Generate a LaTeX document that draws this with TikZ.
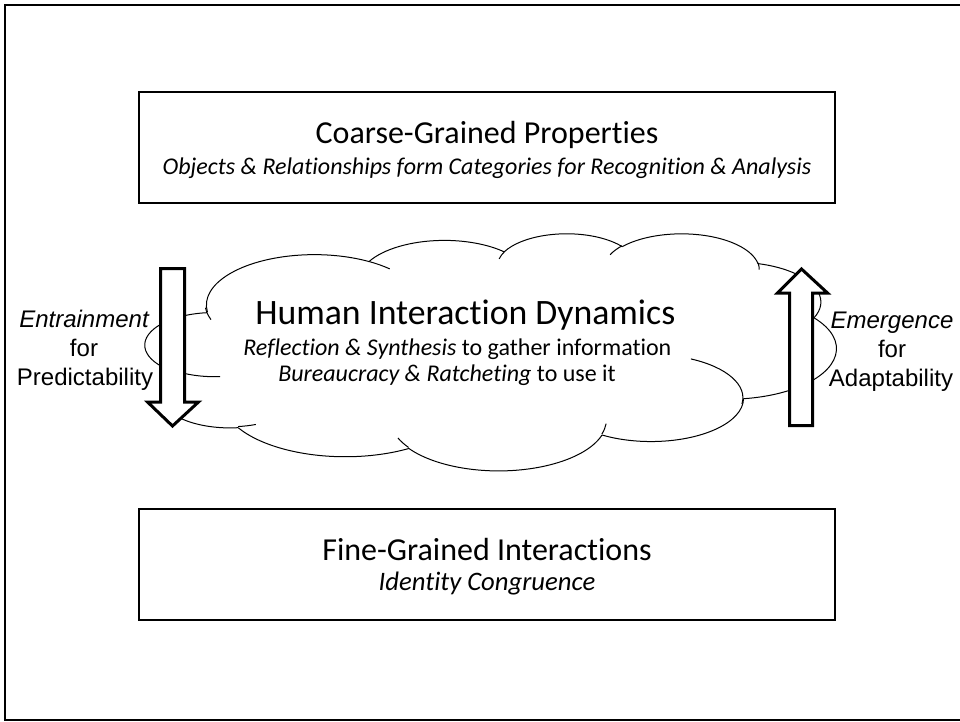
\documentclass[tikz,border=0pt]{standalone}
\usepackage{fontspec}
\setmainfont{Carlito}[Ligatures=NoCommon]
\newfontfamily\arialfont{Liberation Sans}
\begin{document}
\begin{tikzpicture}[x=0.75pt, y=-0.75pt,
  box/.style={draw, line width=1.5pt},
  title/.style={inner sep=0pt, anchor=base, font=\fontsize{24}{29}\selectfont},
  subtitle/.style={inner sep=0pt, anchor=base, font=\fontsize{18}{22}\selectfont\itshape},
  cloudtitle/.style={inner sep=0pt, anchor=base west, font=\fontsize{26.8}{32}\selectfont},
  cloudtext/.style={inner sep=0pt, anchor=base west, font=\fontsize{18}{22}\selectfont},
  side/.style={inner sep=0pt, anchor=base, font=\arialfont\fontsize{18}{22}\selectfont},
  bigarrow/.style={draw, fill=white, line width=2.25pt, line join=miter},
  cloudline/.style={line width=0.75pt}]
\useasboundingbox (0,0) rectangle (960,721);
\clip (0,0) rectangle (960,721);
% Frame
\draw[line width=1.5pt] (4.7,4.7) rectangle (975,720);
% Top box
\draw[box] (139,91.5) rectangle (835.3,202.5);
\node[title] (coarse) at (487,143.5) {Coarse-Grained Properties};
\node[subtitle] (coarsesub) at (487,174.5) {Objects \& Relationships form Categories for Recognition \& Analysis};
% Cloud
\begin{scope}[shift={(145,233)}, xscale=1.5995, yscale=0.5486, cloudline]
\coordinate (cp) at (39,143.7);
\foreach \a/\b/\s/\w in {67.53/91.90/-190.4875/123.7805, 53.33/72.67/-144.1024/89.9452,
  43.65/59.45/-145.8079/99.7230, 48.57/65.95/-130.9861/117.2417,
  53.33/72.73/-78.7089/109.0269, 67.75/92.20/-46.2673/130.2690,
  57.85/78.67/0.6250/114.0333, 67.52/92.15/22.4516/115.1726,
  77.20/105.43/66.2426/75.7110, 43.60/59.18/-274.9421/146.7356,
  43.45/59.45/-246.8285/152.5189}{
  \pgfmathsetmacro\ts{atan2(\a*sin(\s),\b*cos(\s))}
  \pgfmathsetmacro\te{atan2(\a*sin(\s+\w),\b*cos(\s+\w))}
  \pgfmathsetmacro\td{mod(\te-\ts+720,360)}
  \draw (cp) arc[x radius=\a, y radius=\b, start angle=\ts, delta angle=\td] coordinate (cp);
}
% inner folds
\foreach \px/\py/\a/\b/\s/\w in {46.93/261.77/43.45/59.45/86.7420/26.4295,
  69.28/348.99/43.60/59.18/73.6105/11.4475, 164.78/390.90/67.52/92.15/137.6242/14.0811,
  288.27/347.51/67.52/92.15/6.4533/15.9984, 341.29/229.54/57.85/78.67/-70.2924/81.5756,
  417.98/153.54/53.33/72.73/30.3180/27.7515, 383.24/54.26/48.57/65.95/-13.7443/14.8661,
  290.78/39.52/48.57/65.95/-149.1815/18.1840, 221.41/47.20/43.65/59.45/-163.4943/17.6881,
  140.00/51.92/67.53/91.90/-66.7070/12.3194, 41.27/157.89/67.53/91.90/154.6963/18.1048}{
  \pgfmathsetmacro\ts{atan2(\a*sin(\s),\b*cos(\s))}
  \pgfmathsetmacro\te{atan2(\a*sin(\s+\w),\b*cos(\s+\w))}
  \pgfmathsetmacro\td{mod(\te-\ts+720,360)}
  \draw (\px,\py) arc[x radius=\a, y radius=\b, start angle=\ts, delta angle=\td];
}
\end{scope}
\node[cloudtitle] (human) at (255,324) {Human Interaction Dynamics};
\node[cloudtext] (reflect) at (243,355.5) {\textit{Reflection \& Synthesis} to gather information};
\node[cloudtext] (bureau) at (278,381) {\textit{Bureaucracy \& Ratcheting} to use it};
% Bottom box
\draw[box] (139,508.5) rectangle (835.3,619.5);
\node[title] (fine) at (487,560) {Fine-Grained Interactions};
\node[subtitle, font=\fontsize{20}{24}\selectfont\itshape] (finesub) at (487,590) {Identity Congruence};
% Entrainment arrow
\draw[bigarrow] (160.5,268.5) -- (184.5,268.5) -- (184.5,402) -- (198.5,402)
  -- (172.5,426) -- (147.5,402) -- (160.5,402) -- cycle;
\node[side] (entrain) at (84,327.5) {\itshape Entrainment};
\node[side] (leftfor) at (84,356.5) {for};
\node[side] (predict) at (85,385.5) {Predictability};
% Emergence arrow
\draw[bigarrow] (789.5,425.5) -- (812.5,425.5) -- (812.5,293) -- (827.5,293)
  -- (801.5,269) -- (777.5,293) -- (789.5,293) -- cycle;
\node[side] (emerge) at (892,328) {\itshape Emergence};
\node[side] (rightfor) at (892,357) {for};
\node[side] (adapt) at (891,386) {Adaptability};
\end{tikzpicture}
\end{document}
